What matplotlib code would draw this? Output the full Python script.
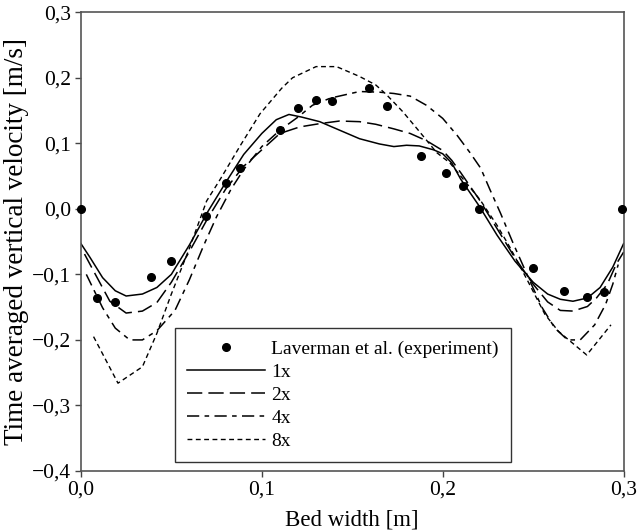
"""
plot.py
-------
Time averaged vertical velocity across the bed width: experiment vs.
simulations at four grid refinements (1x, 2x, 4x, 8x).
"""

import numpy as np
import matplotlib
matplotlib.use("Agg")
import matplotlib.pyplot as plt
from matplotlib.ticker import FuncFormatter, MultipleLocator

plt.rcParams["font.family"] = ["Liberation Serif", "DejaVu Serif"]

# ---------------------------------------------------------------------------
# Data
# ---------------------------------------------------------------------------
exp_x = [0.0, 0.009, 0.019, 0.039, 0.05, 0.069, 0.08, 0.088, 0.11, 0.12,
         0.13, 0.139, 0.159, 0.169, 0.188, 0.202, 0.211, 0.22, 0.25, 0.267,
         0.28, 0.289, 0.299]
exp_y = [0.0, -0.136, -0.142, -0.104, -0.079, -0.011, 0.039, 0.063, 0.121,
         0.154, 0.166, 0.165, 0.184, 0.157, 0.080, 0.054, 0.035, 0.0, -0.091,
         -0.125, -0.134, -0.127, 0.0]

x_1x = [0.0, 0.005, 0.012, 0.019, 0.025, 0.034, 0.042, 0.05, 0.06, 0.07,
        0.08, 0.09, 0.1, 0.108, 0.115, 0.122, 0.132, 0.143, 0.154, 0.165,
        0.173, 0.18, 0.187, 0.195, 0.2, 0.205, 0.21, 0.22, 0.23, 0.24, 0.25,
        0.258, 0.265, 0.272, 0.28, 0.287, 0.294, 0.3]
y_1x = [-0.053, -0.074, -0.105, -0.125, -0.133, -0.13, -0.12, -0.1, -0.055,
        -0.005, 0.04, 0.083, 0.115, 0.136, 0.144, 0.14, 0.133, 0.12, 0.107,
        0.099, 0.095, 0.097, 0.096, 0.09, 0.084, 0.07, 0.045, 0.005, -0.04,
        -0.08, -0.112, -0.13, -0.138, -0.141, -0.136, -0.12, -0.089, -0.053]

x_2x = [0.002, 0.008, 0.016, 0.025, 0.034, 0.042, 0.05, 0.06, 0.07, 0.08,
        0.09, 0.1, 0.11, 0.121, 0.132, 0.143, 0.154, 0.163, 0.173, 0.182,
        0.191, 0.2, 0.205, 0.21, 0.22, 0.23, 0.24, 0.25, 0.258, 0.265, 0.272,
        0.28, 0.285, 0.291, 0.296, 0.3]
y_2x = [-0.069, -0.1, -0.141, -0.159, -0.156, -0.143, -0.112, -0.065,
        -0.015, 0.03, 0.065, 0.09, 0.115, 0.125, 0.13, 0.134, 0.133, 0.129,
        0.122, 0.115, 0.104, 0.089, 0.074, 0.055, 0.015, -0.03, -0.075,
        -0.115, -0.142, -0.155, -0.156, -0.149, -0.136, -0.115, -0.084,
        -0.066]

x_4x = [0.003, 0.0065, 0.012, 0.019, 0.027, 0.034, 0.042, 0.052, 0.06,
        0.068, 0.075, 0.083, 0.09, 0.1, 0.11, 0.12, 0.128, 0.138, 0.154,
        0.165, 0.173, 0.182, 0.191, 0.2, 0.208, 0.215, 0.221, 0.226, 0.232,
        0.239, 0.249, 0.255, 0.262, 0.269, 0.276, 0.284, 0.29, 0.294, 0.297]
y_4x = [-0.1, -0.12, -0.151, -0.182, -0.2, -0.2, -0.186, -0.155, -0.108,
        -0.055, -0.012, 0.03, 0.06, 0.095, 0.12, 0.14, 0.158, 0.169, 0.179,
        0.178, 0.176, 0.172, 0.158, 0.138, 0.112, 0.086, 0.062, 0.03, -0.007,
        -0.053, -0.115, -0.151, -0.182, -0.2, -0.2, -0.177, -0.146, -0.115,
        -0.085]

x_8x = [0.007, 0.0205, 0.034, 0.042, 0.05, 0.06, 0.0695, 0.077, 0.088,
        0.099, 0.111, 0.117, 0.13, 0.1413, 0.154, 0.163, 0.169, 0.178,
        0.1874, 0.1966, 0.204, 0.2206, 0.23, 0.237, 0.247, 0.2565, 0.264,
        0.2796, 0.293]
y_8x = [-0.195, -0.266, -0.241, -0.19, -0.13, -0.06, 0.012, 0.045, 0.096,
        0.145, 0.184, 0.2, 0.217, 0.217, 0.202, 0.189, 0.174, 0.148, 0.117,
        0.086, 0.07, 0.014, -0.025, -0.058, -0.11, -0.161, -0.187, -0.223,
        -0.177]

labels = ["Laverman et al. (experiment)", "1x", "2x", "4x", "8x"]


# ---------------------------------------------------------------------------
# Helpers
# ---------------------------------------------------------------------------
def _comma(v, pos):
    """Decimal comma and a real minus sign, as in the original figure."""
    if abs(v) < 1e-9:
        v = 0.0
    return f"{v:.1f}".replace(".", ",").replace("-", "\u2212")


# ---------------------------------------------------------------------------
# Figure
# ---------------------------------------------------------------------------
fig = plt.figure(figsize=(6.37, 5.31), dpi=100)
ax = fig.add_axes([0.127, 0.113, 0.852, 0.864])

ax.plot(exp_x, exp_y, "o", color="black", markersize=5.5, clip_on=False,
        zorder=5, label=labels[0])
ax.plot(x_1x, y_1x, "-", color="black", lw=1.1, label=labels[1])
ax.plot(x_2x, y_2x, color="black", lw=1.1, dashes=(10, 4), label=labels[2])
ax.plot(x_4x, y_4x, color="black", lw=1.1, dashes=(8, 3.5, 3, 3.5),
        label=labels[3])
ax.plot(x_8x, y_8x, color="black", lw=1.0, dashes=(3.5, 2.5), label=labels[4])

ax.set_xlim(0.0, 0.3)
ax.set_ylim(-0.4, 0.3)
ax.xaxis.set_major_locator(MultipleLocator(0.1))
ax.yaxis.set_major_locator(MultipleLocator(0.1))
ax.xaxis.set_major_formatter(FuncFormatter(_comma))
ax.yaxis.set_major_formatter(FuncFormatter(_comma))
ax.tick_params(direction="out", length=4, width=1, color="#444444",
               labelsize=15.5, pad=3)

for sp in ax.spines.values():
    sp.set_color("#555555")
    sp.set_linewidth(1.2)

ax.set_xlabel("Bed width [m]", fontsize=16.5, labelpad=7)
ax.set_ylabel("Time averaged vertical velocity [m/s]", fontsize=19.5,
              labelpad=2)

leg = ax.legend(loc="lower left", bbox_to_anchor=(0.173, 0.019),
                fontsize=14, numpoints=1, handlelength=4.0,
                handletextpad=0.35, borderpad=0.62, labelspacing=0.28,
                borderaxespad=0.0, fancybox=False, framealpha=1.0)
leg.get_frame().set_edgecolor("#333333")
leg.get_frame().set_linewidth(1.0)

fig.savefig("out.png", dpi=100)
